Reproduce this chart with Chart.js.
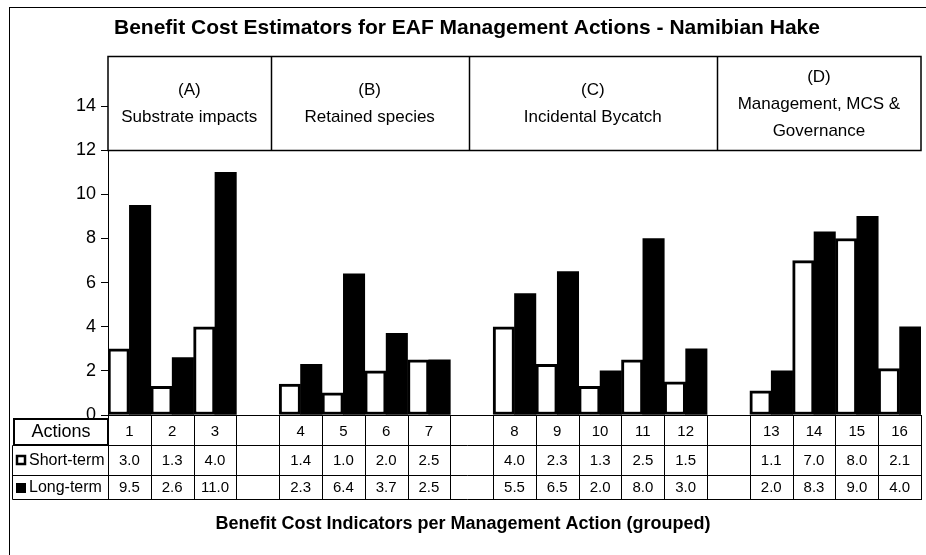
<!DOCTYPE html>
<html>
<head>
<meta charset="utf-8">
<script src="https://cdn.jsdelivr.net/npm/chart.js@4"></script>
<style>
  html, body { margin: 0; padding: 0; background: #fff; }
  #wrap { width: 926px; height: 555px; position: relative; }
</style>
</head>
<body>
<div id="wrap"><canvas id="myChart" width="926" height="555"></canvas></div>
<script>
// actions, with empty slots as spacers between the groups
var actions = ["1", "2", "3", "", "4", "5", "6", "7", "", "8", "9", "10", "11", "12", "", "13", "14", "15", "16"];
var shortTerm = [3.0, 1.3, 4.0, null, 1.4, 1.0, 2.0, 2.5, null, 4.0, 2.3, 1.3, 2.5, 1.5, null, 1.1, 7.0, 8.0, 2.1];
var longTerm = [9.5, 2.6, 11.0, null, 2.3, 6.4, 3.7, 2.5, null, 5.5, 6.5, 2.0, 8.0, 3.0, null, 2.0, 8.3, 9.0, 4.0];
var yTicks = [0, 2, 4, 6, 8, 10, 12, 14];
var groupCodes = ["(A)", "(B)", "(C)", "(D)"];
var groupNames = [["Substrate impacts"], ["Retained species"], ["Incidental Bycatch"], ["Management, MCS &", "Governance"]];

var chartTitle = "Benefit Cost Estimators for EAF Management Actions - Namibian Hake";
var axisTitle = "Benefit Cost Indicators per Management Action (grouped)";

var FONT = "'Liberation Sans', Arial, sans-serif";

// group box dividers, in category units from the left edge
var dividers = [3.8, 8.43, 14.23];

function fmt(v) {
    return v == null ? "" : v.toFixed(1);
}

var overlay = {
    id: "overlay",
    afterDraw: function(chart) {
        var c = chart.ctx;
        var x = chart.scales.x;
        var y = chart.scales.y;
        var L = x.left, R = x.right;
        var w = (R - L) / actions.length;
        var y0 = Math.round(y.getPixelForValue(0)) + 0.5;

        c.save();
        c.strokeStyle = "#000";
        c.fillStyle = "#000";
        c.textAlign = "center";
        c.textBaseline = "middle";

        // outer frame
        c.lineWidth = 1;
        c.strokeRect(9.5, 7.5, 940, 600);

        // titles
        c.font = "bold 21px " + FONT;
        c.fillText(chartTitle, 467, 28);
        c.font = "bold 18px " + FONT;
        c.fillText(axisTitle, 463, 524);

        // group box
        var bTop = 56.5, bBot = Math.round(y.getPixelForValue(12)) + 0.5;
        c.fillStyle = "#fff";
        c.fillRect(L, bTop, R - L, bBot - bTop);
        c.fillStyle = "#000";
        c.lineWidth = 1.5;
        c.strokeRect(L, bTop, R - L, bBot - bTop);
        var edges = [L].concat(dividers.map(function(d) { return L + d * w; })).concat([R]);
        for (var i = 0; i < dividers.length; i++) {
            c.beginPath();
            c.moveTo(Math.round(edges[i + 1]) + 0.5, bTop);
            c.lineTo(Math.round(edges[i + 1]) + 0.5, bBot);
            c.stroke();
        }
        c.font = "17px " + FONT;
        for (var g = 0; g < groupCodes.length; g++) {
            var cx = (edges[g] + edges[g + 1]) / 2;
            var lines = [groupCodes[g]].concat(groupNames[g]);
            var lh = 27;
            var start = lines.length === 3 ? 77 : 90;
            for (var k = 0; k < lines.length; k++) {
                c.fillText(lines[k], cx, start + k * lh);
            }
        }

        // data table
        var r2 = 445.5, r3 = 475.5, r4 = 499.5;
        c.lineWidth = 1;
        c.beginPath();
        c.moveTo(L, y0); c.lineTo(R + 1, y0);
        [r2, r3, r4].forEach(function(ry) {
            c.moveTo(12.5, ry); c.lineTo(R + 1, ry);
        });
        for (var j = 0; j <= actions.length; j++) {
            var vx = Math.round(L + j * w) + 0.5;
            c.moveTo(vx, y0); c.lineTo(vx, r4);
        }
        c.moveTo(12.5, r2); c.lineTo(12.5, r4);
        c.stroke();

        c.lineWidth = 2;
        c.strokeRect(14, 419, 94, 26);

        c.font = "18px " + FONT;
        c.fillText("Actions", 61, 432);
        c.textAlign = "left";
        c.font = "16px " + FONT;
        c.fillText("Short-term", 29, 461);
        c.fillText("Long-term", 29, 488);
        c.lineWidth = 2.5;
        c.strokeRect(17, 456, 8, 8);
        c.fillRect(16, 483, 10, 10);

        c.textAlign = "center";
        c.font = "15px " + FONT;
        for (var n = 0; n < actions.length; n++) {
            var mx = L + (n + 0.5) * w;
            c.fillText(actions[n], mx, 432);
            c.fillText(fmt(shortTerm[n]), mx, 461);
            c.fillText(fmt(longTerm[n]), mx, 488);
        }
        c.restore();
    }
};

var ctx = document.getElementById("myChart");

var data = {
    labels: actions,
    datasets: [
        {
            label: "Short-term",
            data: shortTerm,
            backgroundColor: "#fff",
            borderColor: "#000",
            borderWidth: 3,
            borderSkipped: false,
            barPercentage: 1,
            categoryPercentage: 1
        },
        {
            label: "Long-term",
            data: longTerm,
            backgroundColor: "#000",
            borderColor: "#000",
            borderWidth: 0,
            barPercentage: 1,
            categoryPercentage: 1
        }
    ]
};

var options = {
    responsive: false,
    animation: false,
    layout: { padding: { top: 62, bottom: 140, left: 0, right: 5 } },
    plugins: {
        legend: { display: false },
        title: { display: false },
        tooltip: { enabled: false }
    },
    scales: {
        x: { display: false },
        y: {
            min: 0,
            max: 16,
            afterFit: function(scale) { scale.width = 108; },
            afterBuildTicks: function(scale) {
                scale.ticks = yTicks.concat([16]).map(function(v) { return { value: v }; });
            },
            border: { display: true, color: "#000", width: 1 },
            grid: {
                drawOnChartArea: false,
                tickLength: 7,
                color: function(c) { return c.tick && c.tick.value === 16 ? "rgba(0,0,0,0)" : "#000"; }
            },
            ticks: {
                color: "#000",
                padding: 5,
                font: { family: FONT, size: 18 },
                callback: function(v) { return yTicks.indexOf(v) >= 0 ? v : ""; }
            }
        }
    }
};

var barChart = new Chart(ctx, {
    type: "bar",
    data: data,
    options: options,
    plugins: [overlay]
});
</script>
</body>
</html>
